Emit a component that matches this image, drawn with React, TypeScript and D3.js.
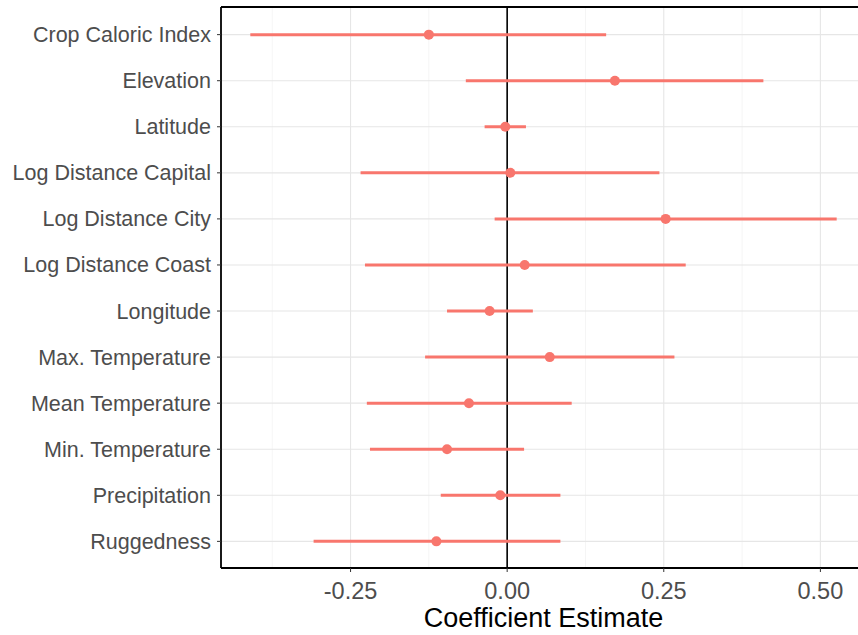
import * as d3 from "d3"
import React from "react"

const terms = [
  "Crop Caloric Index",
  "Elevation",
  "Latitude",
  "Log Distance Capital",
  "Log Distance City",
  "Log Distance Coast",
  "Longitude",
  "Max. Temperature",
  "Mean Temperature",
  "Min. Temperature",
  "Precipitation",
  "Ruggedness",
]
const estimates = [-0.125, 0.172, -0.003, 0.005, 0.253, 0.028, -0.028, 0.068, -0.061, -0.096, -0.011, -0.113]
const lower = [-0.41, -0.066, -0.036, -0.234, -0.02, -0.227, -0.096, -0.131, -0.224, -0.219, -0.106, -0.309]
const upper = [0.158, 0.409, 0.03, 0.243, 0.526, 0.285, 0.041, 0.267, 0.103, 0.027, 0.085, 0.085]
const xTicks = [-0.25, 0, 0.25, 0.5]
const xMinor = [-0.375, -0.125, 0.125, 0.375]

const W = 858
const H = 635
const left = 221
const top = 7
const bottom = 568
const font = "'Liberation Sans', Arial, sans-serif"
const red = "#F8766D"

// ggplot prints a plain hyphen, not the unicode minus d3 uses
const fmt = (t: number) => d3.format(".2f")(t).replace("\u2212", "-")

export default function App() {
  const lo = d3.min(lower) as number
  const hi = d3.max(upper) as number
  const pad = (hi - lo) * 0.05
  const x = d3.scaleLinear().domain([lo - pad, hi + pad]).range([left, 866])
  const y = d3.scalePoint<string>().domain(terms).range([top, bottom + 1]).padding(0.6)

  return (
    <svg width={W} height={H} style={{ position: "absolute", left: 0, top: 0, background: "#fff" }}>
      {/* grid */}
      {xMinor.map((t) => (
        <line key={"m" + t} x1={x(t)} x2={x(t)} y1={top} y2={bottom} stroke="#f2f2f2" strokeWidth={0.8} />
      ))}
      {xTicks.map((t) => (
        <line key={"g" + t} x1={x(t)} x2={x(t)} y1={top} y2={bottom} stroke="#e6e6e6" strokeWidth={1.1} />
      ))}
      {terms.map((d) => (
        <line key={"h" + d} x1={left} x2={W} y1={y(d)} y2={y(d)} stroke="#e6e6e6" strokeWidth={1.1} />
      ))}
      {/* zero line */}
      <line x1={x(0)} x2={x(0)} y1={top} y2={bottom} stroke="#000" strokeWidth={1.6} />
      {/* intervals and estimates */}
      {terms.map((d, i) => (
        <g key={d}>
          <line x1={x(lower[i])} x2={x(upper[i])} y1={y(d)} y2={y(d)} stroke={red} strokeWidth={3} />
          <circle cx={x(estimates[i])} cy={y(d)} r={5} fill={red} />
        </g>
      ))}
      {/* panel border */}
      <line x1={left} x2={W} y1={top} y2={top} stroke="#000" strokeWidth={1.8} />
      <line x1={left} x2={left} y1={top} y2={bottom} stroke="#000" strokeWidth={1.8} />
      <line x1={left} x2={W} y1={bottom} y2={bottom} stroke="#000" strokeWidth={1.8} />
      {/* y axis */}
      {terms.map((d) => (
        <g key={"yl" + d} transform={`translate(${left},${y(d)})`}>
          <line x1={-4} x2={0} stroke="#333" strokeWidth={1} />
          <text x={-10} dy="0.35em" textAnchor="end" fontFamily={font} fontSize={21.5} fill="#4d4d4d">
            {d}
          </text>
        </g>
      ))}
      {/* x axis */}
      {xTicks.map((t) => (
        <g key={"xl" + t} transform={`translate(${x(t)},${bottom})`}>
          <line y1={0} y2={4} stroke="#333" strokeWidth={1} />
          <text y={31} textAnchor="middle" fontFamily={font} fontSize={23.5} fill="#4d4d4d">
            {fmt(t)}
          </text>
        </g>
      ))}
      <text x={(left + 866) / 2} y={627} textAnchor="middle" fontFamily={font} fontSize={27} fill="#000">
        Coefficient Estimate
      </text>
    </svg>
  )
}
